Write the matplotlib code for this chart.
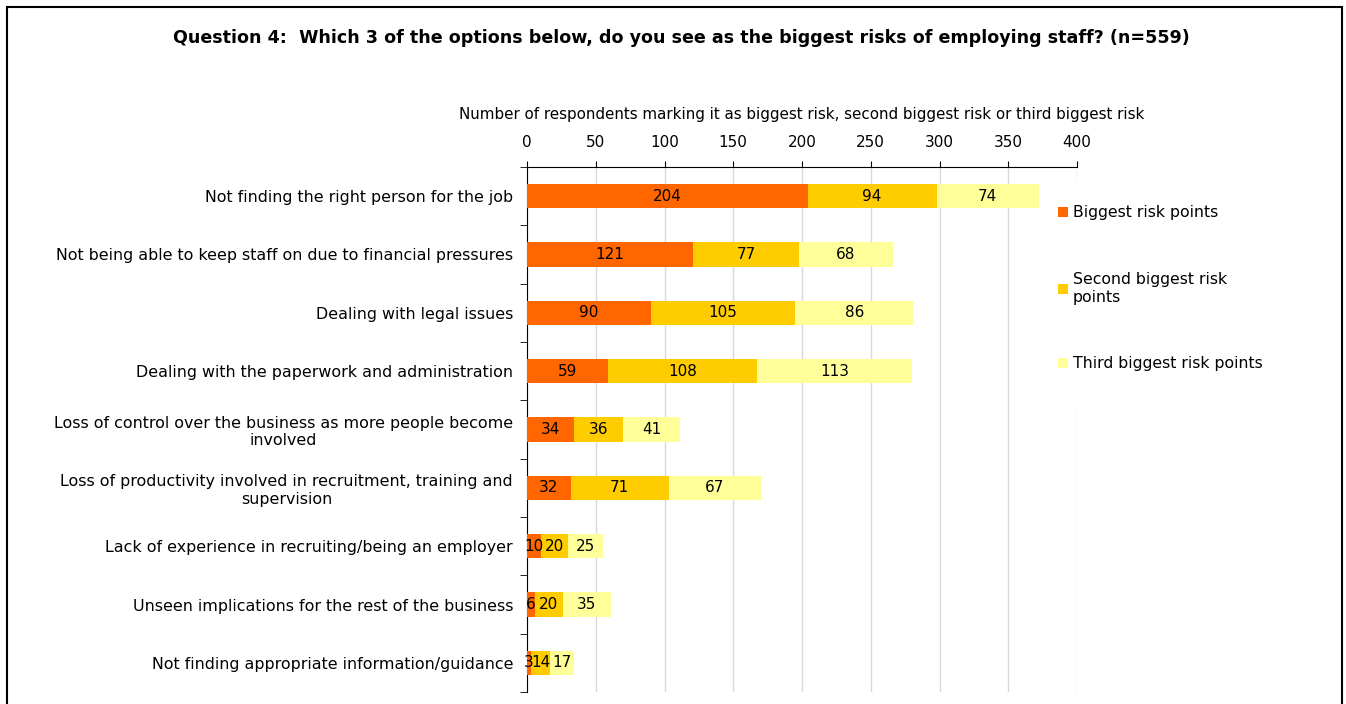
import matplotlib
matplotlib.use("Agg")
import matplotlib.pyplot as plt
import matplotlib.patches as mpatches
import numpy as np

plt.rcParams['font.family'] = ['DejaVu Sans']

categories = [
    "Not finding the right person for the job",
    "Not being able to keep staff on due to financial pressures",
    "Dealing with legal issues",
    "Dealing with the paperwork and administration",
    "Loss of control over the business as more people become\ninvolved",
    "Loss of productivity involved in recruitment, training and\nsupervision",
    "Lack of experience in recruiting/being an employer",
    "Unseen implications for the rest of the business",
    "Not finding appropriate information/guidance",
]
biggest = [204, 121, 90, 59, 34, 32, 10, 6, 3]
second = [94, 77, 105, 108, 36, 71, 20, 20, 14]
third = [74, 68, 86, 113, 41, 67, 25, 35, 17]
series_names = ["Biggest risk points", "Second biggest risk\npoints", "Third biggest risk points"]
colors = ["#FF6600", "#FFCC00", "#FFFF99"]

fig = plt.figure(figsize=(13.46, 7.04), dpi=100)
ax = fig.add_axes([527 / 1346, 1 - 692 / 704, 550 / 1346, 525 / 704])

y = np.arange(len(categories))
left = np.zeros(len(categories))
for vals, name, c in zip([biggest, second, third], series_names, colors):
    ax.barh(y, vals, left=left, height=0.42, color=c, label=name, zorder=3)
    for yi, v, l in zip(y, vals, left):
        ax.text(l + v / 2, yi, str(v), ha='center', va='center', fontsize=11, zorder=4)
    left = left + np.array(vals)

ax.set_ylim(len(categories) - 0.5, -0.5)
ax.set_xlim(0, 400)
ax.set_xticks(np.arange(0, 401, 50))
ax.xaxis.tick_top()
ax.xaxis.set_label_position('top')
ax.set_xlabel("Number of respondents marking it as biggest risk, second biggest risk or third biggest risk",
              fontsize=10.9, labelpad=12)
ax.tick_params(axis='x', direction='out', length=4, labelsize=11, pad=8)
ax.grid(axis='x', color='#d9d9d9', lw=1, zorder=0)

ax.set_yticks(y)
ax.set_yticklabels(categories, fontsize=11.4, ha='right', multialignment='center')
ax.tick_params(axis='y', length=0, pad=10)
ax.set_yticks(np.arange(-0.5, len(categories) + 0.5, 1), minor=True)
ax.tick_params(axis='y', which='minor', direction='out', length=5)

for s in ['right', 'bottom']:
    ax.spines[s].set_visible(False)
ax.spines['left'].set_color('black')
ax.spines['top'].set_color('black')
ax.spines['top'].set_linewidth(0.8)

# white legend area that hides the last gridline
legend_bg = mpatches.Rectangle((1045 / 1346, 1 - 408 / 704), 245 / 1346, 225 / 704,
                               transform=fig.transFigure, facecolor='white',
                               edgecolor='none', zorder=1)
fig.patches.append(legend_bg)

leg = fig.legend(loc='upper left', bbox_to_anchor=(1049 / 1346, 1 - 196 / 704),
                 frameon=True, fontsize=11.3, handlelength=0.6, handleheight=0.6,
                 handletextpad=0.3, labelspacing=3.3, borderpad=0.1)
leg.get_frame().set_edgecolor('white')
leg.get_frame().set_facecolor('white')
leg.get_frame().set_alpha(1)

fig.text(0.5065, 1 - 38 / 704,
         "Question 4:  Which 3 of the options below, do you see as the biggest risks of employing staff? (n=559)",
         ha='center', va='center', fontsize=12.6, fontweight='bold')

border = mpatches.Rectangle((7 / 1346, -0.05), 1335 / 1346, 1.05 - 7 / 704,
                            transform=fig.transFigure, fill=False, lw=1.5,
                            edgecolor='black', clip_on=False, zorder=2)
fig.patches.append(border)

fig.savefig("out.png", dpi=100)
